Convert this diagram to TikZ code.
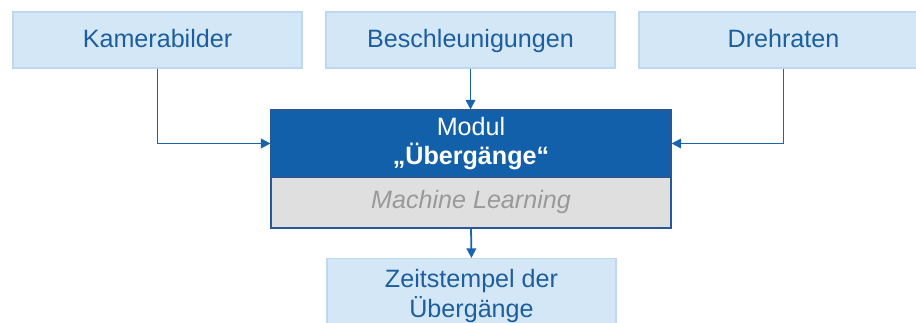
\documentclass[tikz,border=0pt]{standalone}
\usepackage{fontspec}
\setmainfont{Liberation Sans}
\usetikzlibrary{arrows.meta}

\definecolor{textblue}{HTML}{1C5E9E}
\definecolor{lightfill}{HTML}{D4E7F6}
\definecolor{lightline}{HTML}{BDD8F0}
\definecolor{modfill}{HTML}{1360AA}
\definecolor{modline}{HTML}{285996}
\definecolor{mlfill}{HTML}{DFDFDF}
\definecolor{mltext}{HTML}{999999}
\definecolor{arrowblue}{HTML}{1A63AE}

\tikzset{
    inbox/.style={draw=lightline, line width=0.6pt, fill=lightfill, text=textblue,
        minimum width=289*0.02cm, minimum height=56*0.02cm, align=center,
        font=\fontsize{14.3}{17.5}\selectfont},
    flow/.style={draw=arrowblue, line width=1pt, -{Triangle[length=5.5pt,width=5.5pt]}}
}

\begin{document}
\begin{tikzpicture}[x=0.02cm, y=-0.02cm]
    \clip (0,0) rectangle (916,323);

    % Inputs
    \foreach \name/\x/\txt in {kam/157.5/Kamerabilder, besch/470.5/Beschleunigungen, dreh/783.5/Drehraten} {
        \node[inbox, text height=0.9em, text depth=0.1em] (\name) at (\x, 40) {\txt};
    }

    % Module
    \node[draw=modline, line width=0.6pt, fill=modfill, text=white, align=center,
        minimum width=400*0.02cm, minimum height=67*0.02cm,
        font=\fontsize{14.3}{17}\selectfont] (modul) at (471, 143.5) {Modul\\\textbf{„Übergänge“}};
    \node[draw=modline, line width=0.6pt, fill=mlfill, text=mltext,
        minimum width=400*0.02cm, minimum height=51*0.02cm,
        font=\fontsize{14.3}{17}\selectfont\itshape] (ml) at (471, 202.5) {Machine Learning};

    % Output (cut off at the bottom)
    \node[inbox, minimum height=70*0.02cm, anchor=north, text depth=0pt] (zeit) at (471.5, 258) {Zeitstempel der\\Übergänge};

    % Connectors
    \draw[flow] (kam.south) |- (modul.west);
    \draw[flow] (besch.south) -- (besch.south |- modul.north);
    \draw[flow] (dreh.south) |- (modul.east);
    \draw[flow] (ml.south) -- (zeit.north);
\end{tikzpicture}
\end{document}
